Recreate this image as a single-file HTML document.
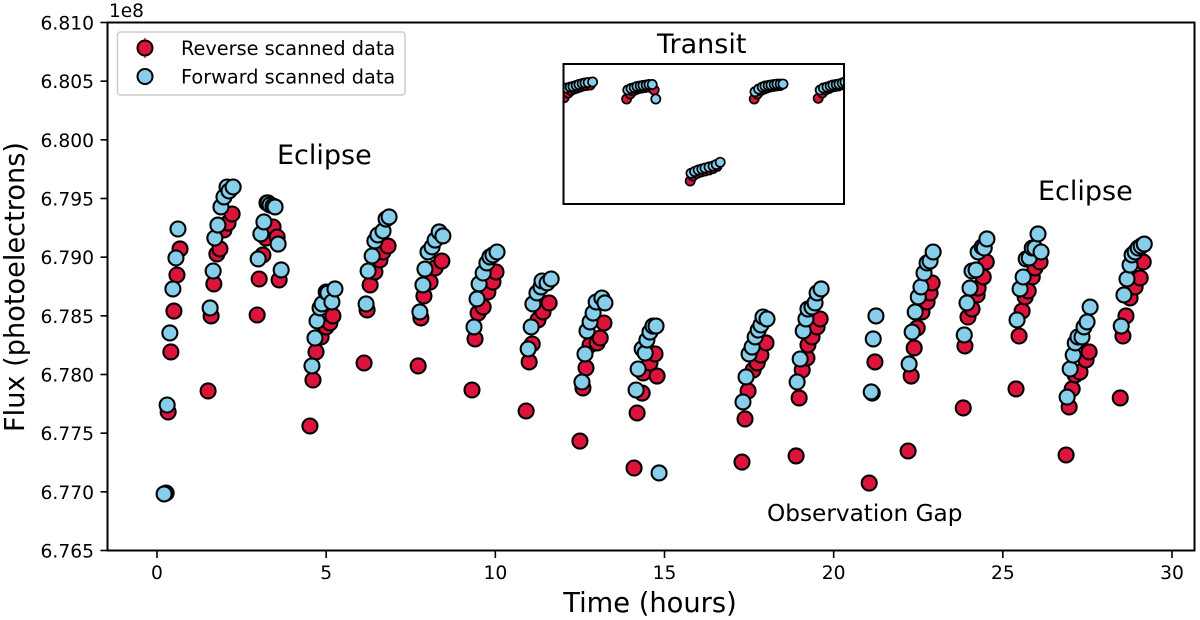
<!DOCTYPE html>
<html>
<head>
<meta charset="utf-8">
<title>Transit and eclipse flux</title>
<style>
html,body{margin:0;padding:0;background:#fff;}
svg{display:block;}
text{font-family:"DejaVu Sans","Liberation Sans",sans-serif;fill:#000;}
</style>
</head>
<body>
<svg id="chart" width="1200" height="620" viewBox="0 0 1200 620" xmlns="http://www.w3.org/2000/svg">
  <defs><clipPath id="inset-clip"><rect x="563" y="64" width="281" height="140"/></clipPath></defs>
  <rect x="0" y="0" width="1200" height="620" fill="#fff"/>
  <g id="ticks"></g>
  <g id="main-points"></g>
  <rect x="107.5" y="22.5" width="1087" height="528" fill="none" stroke="#000" stroke-width="2"/>
  <text x="109" y="17" font-size="18.5">1e8</text>
  <text x="650" y="612" font-size="27.3" text-anchor="middle">Time (hours)</text>
  <text transform="translate(24,287) rotate(-90)" font-size="27.2" text-anchor="middle">Flux (photoelectrons)</text>
  <text x="277" y="164" font-size="27">Eclipse</text>
  <text x="1038" y="200" font-size="27">Eclipse</text>
  <text x="657" y="53" font-size="27">Transit</text>
  <text x="767" y="521" font-size="23.2">Observation Gap</text>
  <g>
    <rect x="117.5" y="32" width="287.5" height="63" rx="3" fill="#fff" fill-opacity="0.8" stroke="#ccc" stroke-width="1.5"/>
    <line x1="145" y1="38" x2="145" y2="58" stroke="#DC143C" stroke-width="1.5"/>
    <circle cx="145" cy="48" r="7.5" fill="#DC143C" stroke="#000" stroke-width="2"/>
    <text x="181" y="55" font-size="19.3">Reverse scanned data</text>
    <circle cx="145" cy="76.5" r="7.5" fill="#87CEEB" stroke="#000" stroke-width="2"/>
    <text x="181" y="83.5" font-size="19.3">Forward scanned data</text>
  </g>
  <rect x="563.5" y="64" width="280.5" height="140" fill="#fff" stroke="#000" stroke-width="2"/>
  <g id="inset-points" clip-path="url(#inset-clip)"></g>
  <rect x="563.5" y="64" width="280.5" height="140" fill="none" stroke="#000" stroke-width="2"/>
</svg>
<script>
const xTickValues = [0, 5, 10, 15, 20, 25, 30];
const xTickLabels = ["0", "5", "10", "15", "20", "25", "30"];
const yTickValues = [6.765, 6.770, 6.775, 6.780, 6.785, 6.790, 6.795, 6.800, 6.805, 6.810];
const yTickLabels = ["6.765", "6.770", "6.775", "6.780", "6.785", "6.790", "6.795", "6.800", "6.805", "6.810"];

const reverseHours = [
  0.27,0.33,0.41,0.50,0.59,0.68,
  1.51,1.60,1.68,1.77,1.86,1.98,2.10,2.22,
  2.96,3.02,3.13,3.22,3.43,3.55,3.61,
  4.52,4.61,4.70,4.85,5.00,5.11,5.20,
  6.12,6.21,6.30,6.44,6.59,6.68,6.83,
  7.72,7.80,7.89,8.07,8.22,8.42,
  9.31,9.40,9.49,9.64,9.78,9.93,10.02,
  10.91,11.00,11.09,11.26,11.41,11.59,
  12.50,12.59,12.68,12.80,13.01,13.10,13.21,
  14.10,14.19,14.34,14.37,14.57,14.72,14.78,
  17.29,17.38,17.47,17.62,17.74,17.85,18.00,
  18.89,18.98,19.07,19.21,19.24,19.36,19.51,19.60,
  21.05,21.14,21.22,
  22.20,22.29,22.38,22.47,22.61,22.76,22.85,22.91,
  23.83,23.88,23.97,24.09,24.24,24.27,24.42,24.51,
  25.39,25.48,25.57,25.66,25.75,25.87,25.95,26.10,
  26.87,26.96,27.05,27.14,27.28,27.46,27.55,
  28.47,28.55,28.64,28.76,28.91,29.06,29.15
];
const reverseFlux = [
  6.76990,6.77681,6.78192,6.78541,6.78848,6.79070,
  6.77860,6.78499,6.78772,6.79027,6.79070,6.79232,6.79291,6.79368,
  6.78507,6.78814,6.79019,6.79163,6.79257,6.79172,6.78806,
  6.77561,6.77953,6.78192,6.78320,6.78405,6.78439,6.78499,
  6.78098,6.78550,6.78763,6.78874,6.78976,6.79044,6.79095,
  6.78073,6.78482,6.78669,6.78788,6.78908,6.78967,
  6.77868,6.78303,6.78524,6.78575,6.78703,6.78788,6.78874,
  6.77689,6.78107,6.78260,6.78465,6.78533,6.78610,
  6.77433,6.77885,6.78056,6.78252,6.78269,6.78311,6.78439,
  6.77203,6.77672,6.77842,6.78013,6.78098,6.78175,6.77987,
  6.77254,6.77621,6.77860,6.78038,6.78098,6.78166,6.78269,
  6.77306,6.77800,6.78038,6.78141,6.78252,6.78320,6.78405,6.78473,
  6.77075,6.77842,6.78107,
  6.77348,6.77987,6.78226,6.78397,6.78533,6.78618,6.78695,6.78780,
  6.77715,6.78243,6.78490,6.78558,6.78678,6.78737,6.78831,6.78959,
  6.77877,6.78328,6.78541,6.78661,6.78712,6.78831,6.78908,6.78959,
  6.77314,6.77723,6.77877,6.77996,6.78021,6.78124,6.78192,
  6.77800,6.78328,6.78499,6.78652,6.78746,6.78823,6.78959
];
const forwardHours = [
  0.21,0.30,0.38,0.47,0.56,0.62,
  1.57,1.66,1.71,1.80,1.89,1.98,2.07,2.13,2.25,
  2.99,3.07,3.16,3.25,3.28,3.34,3.43,3.49,3.58,3.67,
  4.58,4.67,4.73,4.82,4.88,5.00,5.05,5.17,5.26,
  6.18,6.24,6.36,6.44,6.53,6.68,6.77,6.86,
  7.77,7.86,7.92,8.01,8.13,8.22,8.34,8.45,
  9.37,9.46,9.52,9.64,9.75,9.84,9.93,10.05,
  10.97,11.06,11.11,11.23,11.35,11.38,11.53,11.65,
  12.56,12.65,12.71,12.80,12.89,12.98,13.15,13.24,
  14.16,14.22,14.34,14.43,14.48,14.57,14.66,14.75,14.84,
  17.32,17.41,17.50,17.59,17.68,17.77,17.85,17.91,18.03,
  18.92,19.01,19.10,19.18,19.24,19.36,19.45,19.51,19.63,
  21.11,21.17,21.25,
  22.23,22.32,22.41,22.50,22.58,22.67,22.76,22.85,22.94,
  23.86,23.94,24.03,24.09,24.21,24.27,24.39,24.45,24.53,
  25.42,25.51,25.60,25.69,25.78,25.87,25.95,26.04,26.13,
  26.90,26.99,27.08,27.14,27.22,27.34,27.40,27.49,27.58,
  28.50,28.58,28.67,28.76,28.82,28.91,29.00,29.09,29.18
];
const forwardFlux = [
  6.76982,6.77740,6.78354,6.78729,6.78993,6.79240,
  6.78567,6.78882,6.79163,6.79274,6.79428,6.79513,6.79598,6.79564,6.79598,
  6.78985,6.79198,6.79300,6.79462,6.79462,6.79445,6.79436,6.79428,6.79112,6.78891,
  6.78073,6.78311,6.78456,6.78567,6.78601,6.78703,6.78695,6.78618,6.78729,
  6.78601,6.78882,6.79010,6.79138,6.79189,6.79223,6.79325,6.79343,
  6.78533,6.78763,6.78899,6.79044,6.79087,6.79146,6.79215,6.79181,
  6.78405,6.78644,6.78772,6.78865,6.78951,6.79002,6.79019,6.79044,
  6.78218,6.78405,6.78601,6.78695,6.78746,6.78797,6.78780,6.78814,
  6.77936,6.78175,6.78371,6.78448,6.78524,6.78618,6.78652,6.78610,
  6.77868,6.78047,6.78218,6.78183,6.78294,6.78362,6.78413,6.78413,6.77161,
  6.77766,6.77979,6.78175,6.78234,6.78320,6.78379,6.78422,6.78490,6.78473,
  6.77936,6.78132,6.78371,6.78473,6.78558,6.78575,6.78610,6.78695,6.78729,
  6.77851,6.78303,6.78499,
  6.78090,6.78362,6.78533,6.78661,6.78746,6.78865,6.78951,6.78967,6.79044,
  6.78337,6.78610,6.78737,6.78882,6.78891,6.79044,6.79087,6.79078,6.79155,
  6.78465,6.78729,6.78831,6.78985,6.78993,6.79078,6.79078,6.79198,6.79044,
  6.77808,6.78047,6.78166,6.78269,6.78320,6.78320,6.78405,6.78448,6.78575,
  6.78413,6.78678,6.78814,6.78933,6.79019,6.79044,6.79078,6.79095,6.79112
];

const insetReverseHours = [
  0.03,0.13,0.20,0.28,0.35,0.43,0.50,0.58,0.68,
  1.59,1.68,1.75,1.83,1.90,1.98,2.05,2.13,2.20,2.28,
  3.18,3.25,3.35,3.45,3.55,3.65,3.75,3.85,
  4.78,4.86,4.95,5.03,5.10,5.18,5.25,5.33,5.43,
  6.38,6.48,6.56,6.65,6.73,6.80,6.88,6.95
];
const insetReverseFlux = [
  995.19,995.86,996.21,996.43,996.57,996.71,996.86,996.93,997.00,
  995.00,995.71,996.14,996.36,996.50,996.57,996.64,996.71,996.64,996.29,
  983.29,984.00,984.36,984.57,984.71,984.86,985.07,985.36,
  995.00,995.71,996.21,996.43,996.57,996.71,996.79,996.86,996.93,
  995.10,995.86,996.29,996.50,996.71,996.79,996.86,997.00
];
const insetForwardHours = [
  0.09,0.18,0.25,0.33,0.40,0.48,0.55,0.63,0.74,
  1.62,1.70,1.78,1.85,1.93,2.00,2.08,2.15,2.23,2.32,
  3.20,3.29,3.38,3.47,3.55,3.65,3.75,3.83,3.93,
  4.80,4.89,4.98,5.05,5.13,5.20,5.28,5.35,5.43,5.50,
  6.43,6.51,6.60,6.68,6.75,6.83,6.90,6.98,7.05
];
const insetForwardFlux = [
  996.57,996.71,996.79,996.93,997.07,997.21,997.29,997.36,997.43,
  996.29,996.50,996.64,996.79,996.86,996.93,997.00,997.07,997.07,995.00,
  984.39,984.64,984.86,985.00,985.14,985.29,985.43,985.64,985.96,
  996.04,996.43,996.71,996.86,996.93,997.00,997.07,997.14,997.14,997.14,
  996.29,996.57,996.71,996.86,997.00,997.07,997.14,997.29,997.43
];

const SVG_NS = "http://www.w3.org/2000/svg";
function xAxis(h) { return 157 + h * (1172 - 157) / 30; }
function yAxis(f) { return 550.5 - (f - 6.765) * (550.5 - 22.5) / 0.045; }
function insetX(h) { return 563 + h * 40; }
function insetY(f) { return 64 + (1000 - f) * 7; }

const ticksGroup = document.getElementById("ticks");
function addTick(x1, y1, x2, y2) {
  const t = document.createElementNS(SVG_NS, "line");
  t.setAttribute("x1", x1);
  t.setAttribute("y1", y1);
  t.setAttribute("x2", x2);
  t.setAttribute("y2", y2);
  t.setAttribute("stroke", "#000");
  t.setAttribute("stroke-width", "1.6");
  
  
  ticksGroup.appendChild(t);
}
function addLabel(x, y, str, anchor) {
  const l = document.createElementNS(SVG_NS, "text");
  l.setAttribute("x", x);
  l.setAttribute("y", y);
  l.setAttribute("font-size", "18.7");
  l.setAttribute("text-anchor", anchor);
  l.textContent = str;
  
  
  ticksGroup.appendChild(l);
}
xTickValues.forEach(function (v, i) {
  const px = xAxis(v);
  addTick(px, 550.5, px, 558);
  addLabel(px, 579, xTickLabels[i], "middle");
});
yTickValues.forEach(function (v, i) {
  const py = yAxis(v);
  addTick(100.5, py, 107.5, py);
  addLabel(94, py + 7, yTickLabels[i], "end");
});

function addPoints(group, hours, flux, sx, sy, fill, r, sw, name) {
  hours.forEach(function (h, i) {
    const c = document.createElementNS(SVG_NS, "circle");
    c.setAttribute("cx", sx(h).toFixed(2));
    c.setAttribute("cy", sy(flux[i]).toFixed(2));
    c.setAttribute("r", r);
    c.setAttribute("fill", fill);
    c.setAttribute("stroke", "#000");
    c.setAttribute("stroke-width", sw);
    
    
    group.appendChild(c);
  });
}
const mainGroup = document.getElementById("main-points");
addPoints(mainGroup, reverseHours, reverseFlux, xAxis, yAxis, "#DC143C", 7.5, 2.1, "reverse-point");
addPoints(mainGroup, forwardHours, forwardFlux, xAxis, yAxis, "#87CEEB", 7.5, 2.1, "forward-point");
const insetGroup = document.getElementById("inset-points");
addPoints(insetGroup, insetReverseHours, insetReverseFlux, insetX, insetY, "#DC143C", 4.6, 1.7, "inset-reverse-point");
addPoints(insetGroup, insetForwardHours, insetForwardFlux, insetX, insetY, "#87CEEB", 4.6, 1.7, "inset-forward-point");
</script>
</body>
</html>
